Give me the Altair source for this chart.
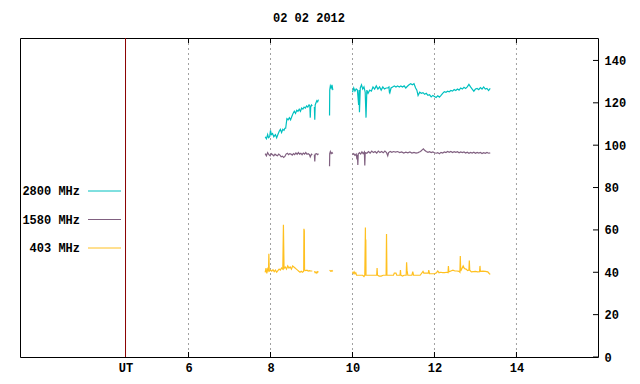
import altair as alt
import pandas as pd

TITLE = "02 02 2012"
SERIES = ["2800 MHz", "1580 MHz", "403 MHz"]
COLORS = ["#00c0c0", "#806080", "#ffc020"]
UT_HOUR = 4.463
X_TICKS = [6, 8, 10, 12, 14]
Y_TICKS = [0, 20, 40, 60, 80, 100, 120, 140]
X_DOMAIN = [1.889, 15.989]
Y_DOMAIN = [0, 150.6]

# None marks a data gap
T_2800 = [7.87, 7.90, 7.93, 7.95, 7.98, 8.00, 8.02, 8.05, 8.08, 8.12, 8.15, 8.18, 8.21, 8.24, 8.27,
          8.30, 8.33, 8.35, 8.37, 8.40, 8.43, 8.46, 8.49, 8.52, 8.55, 8.58, 8.61, 8.64, 8.67, 8.70,
          8.73, 8.76, 8.79, 8.82, 8.85, 8.88, 8.91, 8.94, 8.96, 8.97, 8.98, 9.00, 9.02, None,
          9.07, 9.08, 9.09, 9.11, 9.13, 9.15, 9.17, None,
          9.44, 9.445, 9.46, 9.48, 9.50, 9.52, None,
          10.00, 10.03, 10.06, 10.09, 10.12, 10.15, 10.16, 10.17, 10.19, 10.22, 10.25, 10.28, 10.31,
          10.33, 10.35, 10.38, 10.42, 10.46, 10.50, 10.54, 10.58, 10.62, 10.66, 10.70, 10.74, 10.78,
          10.82, 10.86, 10.89, 10.90, 10.91, 10.94, 10.98, 11.02, 11.06, 11.10, 11.14, 11.18, 11.22,
          11.26, 11.30, 11.34, 11.38, 11.42, 11.46, 11.50, 11.54, 11.57, 11.60, 11.64, 11.68, 11.72,
          11.76, 11.80, 11.84, 11.88, 11.92, 11.96, 12.00, 12.04, 12.08, 12.12, 12.16, 12.20, 12.24,
          12.28, 12.32, 12.36, 12.40, 12.44, 12.48, 12.52, 12.56, 12.60, 12.64, 12.68, 12.72, 12.76,
          12.80, 12.84, 12.88, 12.92, 12.96, 13.00, 13.04, 13.08, 13.12, 13.16, 13.20, 13.24, 13.28,
          13.32, 13.36]
V_2800 = [104, 103, 105, 103.5, 104, 107, 105, 105.5, 104, 105, 103.5, 105, 106.5, 107.5, 106,
          107.5, 107, 108, 108, 112.5, 112, 113, 112, 113.5, 115, 116, 115, 116.5, 116, 117,
          116, 117.5, 117, 118, 117.5, 118.5, 118, 119, 118.5, 113, 118, 119, 118.5, None,
          118, 112, 119, 120, 121, 120.5, 121.5, None,
          114, 126, 128, 127, 128.5, 126, None,
          125, 127, 125.5, 126.5, 126, 119, 126, 115.5, 127, 128.5, 126.5, 127.5, 125,
          113, 126, 124.5, 126, 125.5, 127.5, 126.5, 128, 126.5, 127.5, 126, 127.5, 126.5, 127,
          127, 127.5, 125, 124.6, 127, 127.5, 128, 127.5, 128, 127.5, 128, 127.5, 128,
          127, 127.8, 128.5, 129, 128.5, 129, 127, 126, 123.5, 125, 124.5, 124.8, 124,
          124.5, 123.5, 123.8, 122.8, 123.5, 123, 122.5, 123.3, 122.7, 123.5, 124.5, 125.3, 125,
          125.5, 125.2, 125.8, 125.5, 126.3, 125.8, 126.5, 126, 127, 126.5, 127.3, 126.8, 127.5,
          128.7, 127.5, 126.5, 125.5, 126.5, 126.8, 126.2, 127.2, 126.5, 127.5, 126.5, 126.8, 125.8,
          126.8, 126.3]

T_1580 = [7.87, 7.90, 7.93, 7.96, 7.99, 8.02, 8.05, 8.08, 8.11, 8.14, 8.17, 8.20, 8.23, 8.26, 8.29,
          8.32, 8.35, 8.38, 8.41, 8.44, 8.47, 8.50, 8.53, 8.56, 8.59, 8.62, 8.65, 8.68, 8.71, 8.74,
          8.77, 8.80, 8.83, 8.86, 8.89, 8.92, 8.95, 8.97, 9.00, 9.02, None,
          9.07, 9.08, 9.09, 9.12, 9.15, 9.17, None,
          9.44, 9.445, 9.46, 9.48, 9.50, 9.52, None,
          10.00, 10.03, 10.06, 10.09, 10.11, 10.12, 10.13, 10.14, 10.17, 10.20, 10.23, 10.26, 10.29,
          10.30, 10.31, 10.35, 10.39, 10.43, 10.47, 10.51, 10.55, 10.59, 10.63, 10.67, 10.71, 10.75,
          10.79, 10.83, 10.86, 10.88, 10.92, 10.96, 11.00, 11.05, 11.10, 11.15, 11.20, 11.25, 11.30,
          11.35, 11.40, 11.45, 11.50, 11.55, 11.60, 11.63, 11.66, 11.70, 11.73, 11.76, 11.80, 11.84,
          11.88, 11.92, 11.96, 12.00, 12.04, 12.08, 12.12, 12.16, 12.20, 12.24, 12.28, 12.32, 12.36,
          12.40, 12.44, 12.48, 12.52, 12.56, 12.60, 12.64, 12.68, 12.72, 12.76, 12.80, 12.84, 12.88,
          12.92, 12.96, 13.00, 13.04, 13.08, 13.12, 13.16, 13.20, 13.24, 13.28, 13.32, 13.36]
V_1580 = [96, 95, 96.5, 95.5, 95, 96, 95.5, 95, 95.8, 95.3, 95, 95.8, 95.3, 94.5, 94.8,
          94.2, 94.7, 95.8, 96.2, 95.5, 96, 95.8, 95.3, 96, 95.5, 96.3, 95.7, 96.5, 95.8, 96.2,
          95.5, 96.3, 95.8, 96.5, 95.7, 96, 95.5, 94.5, 95.8, 95.5, None,
          95.5, 92.3, 95.8, 96, 95.5, 96, None,
          90, 96, 97, 96, 96.5, 96, None,
          95.5, 96, 95.2, 95.8, 93.3, 95.5, 90.7, 95.8, 96.5, 95.8, 96.8, 96, 96.8,
          90.4, 96.5, 96.2, 97, 96.3, 97.2, 96.5, 97, 96.3, 97.2, 96.5, 97, 96.4,
          97.2, 96.5, 95, 96.5, 97, 96.6, 97, 96.7, 97, 96.5, 96.8, 96.3, 96.7,
          96.4, 96.8, 96.3, 96.6, 96.3, 96.5, 96.8, 97, 97.8, 98.3, 97.6, 97, 96.6,
          96.9, 96.5, 96.8, 96.4, 96.2, 96.5, 96, 96.6, 96.3, 96.8, 96.5, 97, 96.6,
          97, 96.5, 96.9, 96.6, 96.9, 96.4, 96.8, 96.5, 96.8, 96.3, 96.7, 96.2, 96.6,
          96.3, 96.7, 96.2, 96.6, 96.3, 96.6, 96.1, 96.5, 96.2, 96.6, 96.2, 96.4]

T_403 = [7.87, 7.89, 7.91, 7.93, 7.95, 7.96, 7.97, 8.00, 8.03, 8.06, 8.09, 8.12, 8.15, 8.18, 8.21,
         8.24, 8.27, 8.30, 8.315, 8.33, 8.36, 8.39, 8.42, 8.45, 8.48, 8.51, 8.54, 8.57, 8.60, 8.63,
         8.66, 8.69, 8.72, 8.75, 8.78, 8.81, 8.815, 8.825, 8.83, 8.86, 8.89, 8.92, 8.95, 8.98, 9.02, None,
         9.07, 9.09, 9.11, 9.13, 9.15, 9.17, None,
         9.44, 9.47, 9.50, 9.52, None,
         10.00, 10.02, 10.04, 10.06, 10.08, 10.10, 10.15, 10.20, 10.25, 10.28, 10.30, 10.315, 10.32,
         10.325, 10.33, 10.40, 10.50, 10.59, 10.60, 10.61, 10.65, 10.70, 10.75, 10.82, 10.83, 10.84,
         10.95, 11.00, 11.02, 11.06, 11.08, 11.16, 11.17, 11.18, 11.22, 11.26, 11.31, 11.32, 11.33,
         11.35, 11.45, 11.47, 11.49, 11.60, 11.65, 11.72, 11.74, 11.80, 11.85, 11.86, 11.88, 11.95,
         12.00, 12.05, 12.08, 12.11, 12.15, 12.20, 12.25, 12.30, 12.33, 12.34, 12.35, 12.40, 12.45,
         12.50, 12.55, 12.60, 12.62, 12.63, 12.64, 12.67, 12.70, 12.73, 12.77, 12.81, 12.84, 12.85,
         12.86, 12.90, 12.95, 13.00, 13.05, 13.10, 13.11, 13.12, 13.18, 13.24, 13.30, 13.34, 13.36]
V_403 = [40, 42, 39.5, 41.5, 40.5, 48.7, 40.5, 41, 40.5, 41.2, 40.3, 41, 40, 40.8, 41.5,
         41, 42, 41.5, 62.4, 41.8, 42.5, 41.5, 43, 42, 42.5, 41.5, 43, 42.5, 42, 41.5,
         41, 40.5, 40, 40.5, 40, 40.5, 60.5, 59.6, 41, 40.8, 41, 40.6, 40.8, 40.6, 40.6, None,
         40.5, 39.8, 40.2, 39.6, 40.3, 40, None,
         41, 40.5, 40.8, 40.4, None,
         40.3, 39.5, 40.2, 39.3, 39.8, 38.6, 38.6, 38.6, 38.6, 38.0, 38.6, 61.1, 38.6,
         55.5, 38.6, 38.6, 38.6, 38.6, 42, 38.6, 38.2, 38.2, 38.6, 38.6, 58.1, 38.6,
         38.6, 38.6, 39.6, 39.6, 38.6, 38.6, 41, 38.6, 38.2, 38.6, 38.6, 44.7, 41,
         38.6, 38.6, 40.3, 38.6, 38.6, 38.6, 40.4, 39.6, 39.6, 39.6, 41, 39.3, 39.3,
         39.3, 39.8, 40.6, 39.8, 40, 39.8, 39.8, 40, 39.8, 43, 40.2, 40.6, 41,
         40.6, 40.6, 40.4, 40, 47.7, 40.6, 41.8, 43, 41.8, 41.5, 40.8, 41, 45.5,
         41, 40.2, 40.3, 40.4, 40.2, 40.3, 43, 40.4, 40.5, 40.4, 40.2, 39.3, 39.0]


def build(name, ts, vs):
    rows, seg = [], 0
    for t, v in zip(ts, vs):
        if t is None or v is None:
            seg += 1
            continue
        rows.append({"series": name, "seg": f"{name}-{seg}", "t": t, "v": v})
    return rows


rows = build(SERIES[0], T_2800, V_2800) + build(SERIES[1], T_1580, V_1580) + build(SERIES[2], T_403, V_403)
df = pd.DataFrame(rows)

FONT = "Liberation Mono"
x_scale = alt.Scale(domain=X_DOMAIN, nice=False, zero=False)
y_scale = alt.Scale(domain=Y_DOMAIN, nice=False)
color_scale = alt.Scale(domain=SERIES, range=COLORS)

x_axis = alt.Axis(values=X_TICKS + [UT_HOUR], labelExpr="datum.value < 5 ? 'UT' : datum.label",
                  grid=False, ticks=False, tickSize=0, domain=False, labelPadding=5, labelFont=FONT,
                  labelFontSize=12, labelFontWeight="bold", labelColor="black", title=None,
                  labelFlush=False)
y_axis = alt.Axis(orient="right", values=Y_TICKS, grid=False, ticks=False, tickSize=0, domain=False,
                  labelPadding=6, labelFont=FONT, labelFontSize=12, labelFontWeight="bold",
                  labelColor="black", title=None, labelFlush=False)

xt = pd.DataFrame({"t": X_TICKS})
grid = alt.Chart(xt).mark_rule(color="#a0a0a0", strokeWidth=1, strokeDash=[2, 3]).encode(
    x=alt.X("t:Q", scale=x_scale, axis=x_axis))

lines = alt.Chart(df).mark_line(strokeWidth=1.2, clip=True).encode(
    x=alt.X("t:Q", scale=x_scale, axis=x_axis),
    y=alt.Y("v:Q", scale=y_scale, axis=y_axis),
    color=alt.Color("series:N", scale=color_scale, legend=None),
    detail="seg:N",
)

ut_line = alt.Chart(pd.DataFrame({"t": [UT_HOUR]})).mark_rule(color="#8b0000", strokeWidth=1).encode(
    x=alt.X("t:Q", scale=x_scale)
)

xticks_bottom = alt.Chart(xt).mark_rule(color="black", strokeWidth=1).encode(
    x=alt.X("t:Q", scale=x_scale), y=alt.value(314), y2=alt.value(319))
xticks_top = alt.Chart(xt).mark_rule(color="black", strokeWidth=1).encode(
    x=alt.X("t:Q", scale=x_scale), y=alt.value(0), y2=alt.value(5))
yticks = alt.Chart(pd.DataFrame({"v": Y_TICKS})).mark_rule(color="black", strokeWidth=1).encode(
    y=alt.Y("v:Q", scale=y_scale), x=alt.value(573), x2=alt.value(578))

inner = alt.layer(grid, lines, ut_line, xticks_bottom, xticks_top, yticks)

leg_df = pd.DataFrame({"name": SERIES})
leg_y = alt.Y("name:N", scale=alt.Scale(type="point", domain=SERIES, range=[153, 210], padding=0), axis=None)
leg_text = alt.Chart(leg_df).mark_text(align="right", baseline="middle", font=FONT, fontSize=12,
                                       fontWeight="bold", color="black").encode(
    x=alt.value(60), y=leg_y, text="name:N")
leg_rule = alt.Chart(leg_df).mark_rule(strokeWidth=1).encode(
    x=alt.value(68), x2=alt.value(101), y=leg_y,
    color=alt.Color("name:N", scale=color_scale, legend=None))
legend = alt.layer(leg_text, leg_rule)

chart = alt.layer(inner, legend).resolve_scale(y="independent").properties(
    width=578, height=319,
    title=alt.TitleParams(TITLE, font=FONT, fontSize=12, fontWeight="bold", color="black",
                          anchor="middle", offset=13),
    autosize=alt.AutoSizeParams(type="none"),
    padding={"left": 12, "top": 30, "right": 30, "bottom": 19},
).configure_view(stroke="black", strokeWidth=1)

chart.save("out.html", embed_options={"renderer": "svg", "actions": False})
